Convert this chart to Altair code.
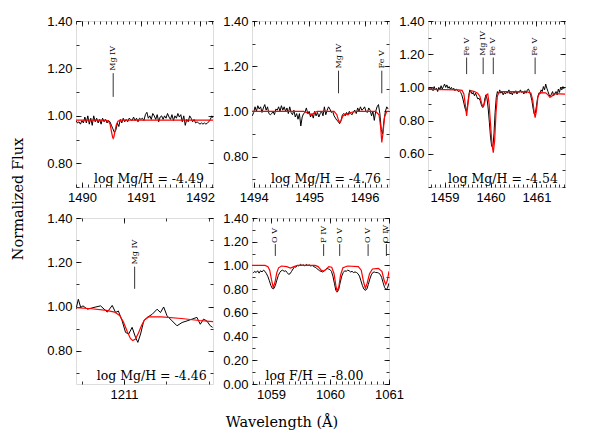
import altair as alt
import numpy as np
import pandas as pd

W, H = 137, 166
SERIF = "DejaVu Serif"
SANS = "Liberation Sans"

# ---------------- Panel 1 : Mg IV 1490.5 ----------------
p1_obs_start, p1_obs_step = 1489.900, 0.025
p1_obs_flux = [
    0.98, 0.97, 0.975, 0.965, 0.98, 0.97, 0.995, 0.97, 1.00, 0.965,
    0.99, 0.96, 1.00, 0.975, 0.99, 0.97, 0.985, 0.965, 0.99, 0.975,
    0.985, 0.97, 0.98, 0.975, 0.96, 0.945, 0.93, 0.94, 0.97, 0.955,
    0.985, 0.97, 0.99, 0.975, 0.985, 0.975, 0.99, 0.985, 0.98, 0.995,
    0.98, 0.99, 0.975, 0.99, 0.985, 0.99, 0.98, 1.005, 1.015, 0.99,
    1.00, 0.985, 1.01, 1.00, 0.985, 1.005, 0.975, 0.995, 1.00, 0.985,
    1.00, 0.99, 1.01, 0.995, 0.985, 1.005, 0.98, 1.00, 0.99, 1.01,
    0.995, 1.005, 0.975, 1.00, 0.96, 0.985, 0.975, 1.00, 0.99, 0.975,
    0.985, 0.97, 0.975, 0.97, 0.965, 0.97, 0.965, 0.97, 0.965, 0.97,
    0.975, 0.985, 1.00, 0.99]
p1_mod_wave = [1489.90, 1490.40, 1490.45, 1490.48, 1490.50, 1490.52, 1490.53,
               1490.54, 1490.56, 1490.58, 1490.61, 1490.66, 1492.22]
p1_mod_flux = [0.982, 0.982, 0.978, 0.962, 0.935, 0.91, 0.905,
               0.91, 0.935, 0.96, 0.977, 0.982, 0.982]
p1_id_wave = [1490.53]
p1_id_name = ["Mg IV"]
p1_note = "log Mg/H = -4.49"

# ---------------- Panel 2 : Mg IV 1495.5 ----------------
p2_obs_start, p2_obs_step = 1493.975, 0.025
p2_obs_flux = [
    0.98, 0.995, 1.02, 1.00, 1.025, 1.01, 1.02, 0.995, 1.015, 1.03,
    1.005, 1.02, 0.99, 0.985, 0.99, 1.00, 0.985, 1.01, 1.005, 1.02,
    1.00, 1.025, 1.005, 1.02, 1.00, 1.015, 0.99, 1.02, 0.995, 0.985,
    1.005, 0.975, 0.99, 0.965, 0.99, 0.935, 0.975, 0.99, 0.995, 1.015,
    0.99, 1.00, 0.975, 0.99, 0.97, 1.00, 0.98, 0.995, 0.975, 0.99,
    1.00, 0.98, 1.02, 0.985, 1.005, 1.02, 1.01, 0.995, 1.00, 0.98,
    0.97, 0.96, 0.955, 0.945, 0.96, 0.985, 0.99, 0.98, 0.995, 0.985,
    1.00, 0.99, 0.985, 1.00, 1.005, 0.99, 1.015, 1.00, 1.02, 1.005,
    1.01, 1.02, 1.00, 0.995, 1.015, 1.005, 0.98, 1.00, 0.96, 1.00,
    1.02, 1.03, 0.99, 0.92, 0.90, 0.96, 1.00, 1.02, 1.01]
p2_mod_wave = [1493.97, 1494.90, 1494.95, 1495.00, 1495.05, 1495.10, 1495.15,
               1495.45, 1495.50, 1495.53, 1495.55, 1495.57, 1495.60, 1495.65,
               1495.70, 1495.75, 1495.85, 1496.20, 1496.26, 1496.29, 1496.31,
               1496.33, 1496.36, 1496.40, 1496.44]
p2_mod_flux = [1.0, 1.0, 0.995, 0.99, 0.985, 0.995, 1.0,
               1.0, 0.985, 0.96, 0.95, 0.955, 0.975, 0.99,
               0.985, 0.995, 1.0, 1.0, 0.985, 0.93, 0.862,
               0.90, 0.975, 1.0, 1.0]
p2_id_wave = [1495.53, 1496.31]
p2_id_name = ["Mg IV", "Fe V"]
p2_note = "log Mg/H = -4.76"

# ---------------- Panel 3 : Mg IV 1459.8 ----------------
p3_obs_start, p3_obs_step = 1458.650, 0.025
p3_obs_flux = [
    0.99, 1.00, 0.985, 0.995, 0.98, 1.005, 0.985, 0.995, 0.975, 1.00,
    0.985, 1.01, 0.99, 1.005, 1.02, 1.00, 1.015, 0.995, 1.005, 0.99,
    1.00, 0.985, 0.995, 0.98, 0.99, 0.985, 0.975, 0.98, 0.97, 0.955,
    0.93, 0.90, 0.87, 0.855, 0.89, 0.95, 0.985, 0.975, 0.96, 0.97,
    0.95, 0.965, 0.945, 0.93, 0.935, 0.92, 0.895, 0.88, 0.885, 0.93,
    0.955, 0.93, 0.87, 0.79, 0.70, 0.645, 0.64, 0.72, 0.85, 0.94,
    0.975, 0.96, 0.985, 0.965, 0.975, 0.955, 0.97, 0.96, 0.975, 0.965,
    0.985, 0.96, 0.97, 0.955, 0.975, 0.965, 0.98, 0.96, 0.975, 0.97,
    0.985, 0.97, 0.975, 0.96, 0.98, 0.965, 0.985, 0.99, 0.975, 0.95,
    0.92, 0.875, 0.84, 0.845, 0.89, 0.94, 0.965, 0.96, 0.985, 0.975,
    1.005, 0.985, 1.02, 0.995, 0.975, 0.955, 0.945, 0.96, 0.975, 0.95,
    0.965, 0.975, 0.955, 0.99, 0.97, 1.00, 0.985, 1.005, 0.99]
p3_mod_wave = [1458.64, 1459.30, 1459.38, 1459.42, 1459.45, 1459.48, 1459.51,
               1459.54, 1459.58, 1459.65, 1459.72, 1459.77, 1459.81, 1459.84,
               1459.87, 1459.91, 1459.94, 1459.97, 1460.00, 1460.03, 1460.06,
               1460.09, 1460.12, 1460.15, 1460.20, 1460.80, 1460.88, 1460.92,
               1460.95, 1460.97, 1461.00, 1461.03, 1461.07, 1461.20, 1461.25,
               1461.29, 1461.33, 1461.38, 1461.62]
p3_mod_flux = [0.988, 0.985, 0.982, 0.96, 0.90, 0.828, 0.90,
               0.965, 0.98, 0.975, 0.965, 0.945, 0.90, 0.884,
               0.905, 0.955, 0.96, 0.90, 0.78, 0.66, 0.607,
               0.68, 0.85, 0.95, 0.975, 0.973, 0.965, 0.92,
               0.85, 0.818, 0.86, 0.94, 0.968, 0.967, 0.955,
               0.94, 0.945, 0.962, 0.96]
p3_id_wave = [1459.48, 1459.84, 1460.06, 1460.97]
p3_id_name = ["Fe V", "Mg IV", "Fe V", "Fe V"]
p3_note = "log Mg/H = -4.54"

# ---------------- Panel 4 : Mg IV 1211.0 ----------------
p4_obs_wave = [1210.773, 1210.784, 1210.795, 1210.806, 1210.827, 1210.858, 1210.889,
               1210.921, 1210.944, 1210.960, 1210.973, 1210.991, 1211.007, 1211.022,
               1211.038, 1211.054, 1211.065, 1211.078, 1211.093, 1211.109, 1211.133,
               1211.156, 1211.172, 1211.187, 1211.203, 1211.227, 1211.250, 1211.274,
               1211.297, 1211.321, 1211.344, 1211.360, 1211.375, 1211.391, 1211.407,
               1211.418]
p4_obs_flux = [0.988, 1.033, 0.996, 1.003, 0.988, 0.996, 1.003,
               0.975, 1.005, 0.973, 0.980, 0.935, 0.883, 0.876,
               0.906, 0.861, 0.838, 0.876, 0.935, 0.951, 0.965,
               0.988, 0.973, 0.998, 0.958, 0.935, 0.913, 0.928,
               0.935, 0.943, 0.951, 0.920, 0.943, 0.935, 0.913,
               0.906]
p4_mod_wave = [1210.773, 1210.847, 1210.917, 1210.955, 1210.979, 1210.997, 1211.016,
               1211.030, 1211.041, 1211.054, 1211.068, 1211.083, 1211.097, 1211.116,
               1211.177, 1211.271, 1211.355, 1211.420]
p4_mod_flux = [0.995, 0.99, 0.983, 0.975, 0.96, 0.93, 0.885,
               0.856, 0.846, 0.853, 0.88, 0.915, 0.94, 0.953,
               0.953, 0.946, 0.937, 0.932]
p4_id_wave = [1211.05]
p4_id_name = ["Mg IV"]
p4_note = "log Mg/H = -4.46"

# ---------------- Panel 5 : F IV 1059.9 ----------------
p5_obs_start, p5_obs_step = 1058.700, 0.025
p5_obs_flux = [
    0.935, 0.95, 0.94, 0.955, 0.935, 0.955, 0.945, 0.96, 0.95, 0.93,
    0.905, 0.87, 0.83, 0.805, 0.805, 0.83, 0.875, 0.915, 0.94, 0.955,
    0.96, 0.95, 0.955, 0.94, 0.925, 0.93, 0.95, 0.97, 0.99, 0.985,
    1.00, 0.995, 1.01, 1.00, 1.005, 0.995, 1.01, 1.00, 1.005, 0.995,
    1.00, 0.99, 0.985, 0.975, 0.965, 0.955, 0.95, 0.945, 0.95, 0.965,
    0.975, 0.97, 0.965, 0.95, 0.91, 0.85, 0.79, 0.775, 0.80, 0.86,
    0.91, 0.94, 0.955, 0.95, 0.96, 0.955, 0.945, 0.95, 0.94, 0.945,
    0.94, 0.93, 0.91, 0.87, 0.83, 0.80, 0.79, 0.80, 0.84, 0.885,
    0.92, 0.94, 0.945, 0.94, 0.94, 0.935, 0.925, 0.90, 0.855, 0.815,
    0.795, 0.81, 0.85]
p5_mod_wave = [1058.68, 1058.90, 1058.95, 1058.98, 1059.01, 1059.04, 1059.07,
               1059.10, 1059.13, 1059.18, 1059.27, 1059.33, 1059.39, 1059.45,
               1059.75, 1059.80, 1059.85, 1059.89, 1059.93, 1059.98, 1060.03,
               1060.07, 1060.10, 1060.12, 1060.15, 1060.18, 1060.22, 1060.30,
               1060.48, 1060.53, 1060.57, 1060.60, 1060.63, 1060.67, 1060.72,
               1060.82, 1060.88, 1060.92, 1060.945, 1060.97, 1061.00]
p5_mod_flux = [1.0, 1.0, 0.99, 0.96, 0.88, 0.812, 0.86,
               0.94, 0.98, 0.995, 0.99, 0.978, 0.99, 1.0,
               1.0, 0.99, 0.96, 0.952, 0.965, 0.99, 0.985,
               0.93, 0.83, 0.784, 0.82, 0.92, 0.98, 0.995,
               0.99, 0.96, 0.86, 0.807, 0.85, 0.93, 0.97,
               0.975, 0.95, 0.87, 0.84, 0.87, 0.95]
p5_id_wave = [1059.075, 1059.893, 1060.165, 1060.646, 1060.956]
p5_id_name = ["O V", "F IV", "O V", "O V", "O IV"]
p5_note = "log F/H = -8.00"


def grid(start, step, n):
    return [round(start + step * i, 4) for i in range(n)]


def ticks(a, b, step):
    return [round(v, 4) for v in np.arange(a, b + step / 2, step)]


def ax(orient, vals, major, labels=False, fmt=None):
    size = 5 if major else 3
    kw = dict(orient=orient, values=vals, tickSize=size, offset=-size, domain=False,
              grid=False, title=None, ticks=True, tickColor="black", tickWidth=0.8,
              labels=labels)
    if labels:
        kw.update(format=fmt, labelFont=SANS, labelFontSize=13, labelColor="black",
                  labelPadding=4, labelFlush=False, labelOverlap=False)
    return alt.Axis(**kw)


def panel(obs_w, obs_f, mod_w, mod_f, id_w, id_n, xdom, ydom, xmaj, xmin,
          ymaj, ymin, note, note_x, extra=None):
    xs = alt.Scale(domain=xdom, nice=False, zero=False)
    ys = alt.Scale(domain=ydom, nice=False, zero=False)
    obs = pd.DataFrame({"w": obs_w, "f": obs_f})
    mod = pd.DataFrame({"w": mod_w, "f": mod_f})
    ids = pd.DataFrame({"w": id_w, "n": id_n,
                        "y1": [1.08] * len(id_w), "y2": [1.18] * len(id_w),
                        "yt": [1.19] * len(id_w)})
    l1 = alt.Chart(obs).mark_line(color="black", strokeWidth=1, clip=True).encode(
        x=alt.X("w:Q", scale=xs, axis=ax("bottom", xmaj, True, True, "d")),
        y=alt.Y("f:Q", scale=ys, axis=ax("left", ymaj, True, True, ".2f")))
    l2 = alt.Chart(mod).mark_line(color="#ff0000", strokeWidth=1.2, clip=True).encode(
        x=alt.X("w:Q", scale=xs, axis=ax("bottom", xmin, False)),
        y=alt.Y("f:Q", scale=ys, axis=ax("left", ymin, False)))
    l3 = alt.Chart(ids).mark_rule(color="black", strokeWidth=0.8).encode(
        x=alt.X("w:Q", scale=xs, axis=ax("top", xmaj, True)),
        y=alt.Y("y1:Q", scale=ys, axis=ax("right", ymaj, True)),
        y2="y2:Q")
    l4 = alt.Chart(ids).mark_text(font=SERIF, fontSize=8, angle=270, align="left",
                                  baseline="middle", color="black").encode(
        x=alt.X("w:Q", scale=xs, axis=ax("top", xmin, False)),
        y=alt.Y("yt:Q", scale=ys, axis=ax("right", ymin, False)),
        text="n:N")
    l5 = alt.Chart(alt.Data(values=[{}])).mark_text(
        text=note, font=SERIF, fontSize=12.5, align="left", baseline="alphabetic",
        color="black").encode(x=alt.value(note_x), y=alt.value(H - 4))
    layers = [l1, l2, l3, l4, l5] + (extra or [])
    return alt.layer(*layers).resolve_axis(x="independent", y="independent").properties(
        width=W, height=H)


ytitle = alt.Chart(alt.Data(values=[{}])).mark_text(
    text="Normalized Flux", font=SERIF, fontSize=14.5, angle=270, align="center",
    baseline="middle", color="black").encode(x=alt.value(-57), y=alt.value(178))
xtitle = alt.Chart(alt.Data(values=[{}])).mark_text(
    text="Wavelength (Å)", font=SERIF, fontSize=14.5, align="center",
    baseline="middle", color="black").encode(x=alt.value(206), y=alt.value(402))

c1 = panel(grid(p1_obs_start, p1_obs_step, len(p1_obs_flux)), p1_obs_flux,
           p1_mod_wave, p1_mod_flux, p1_id_wave, p1_id_name,
           [1489.90, 1492.22], [0.70, 1.40], [1490, 1491, 1492], ticks(1489.9, 1492.2, 0.1),
           [0.8, 1.0, 1.2, 1.4], ticks(0.7, 1.4, 0.1), p1_note, 18, [ytitle, xtitle])
c2 = panel(grid(p2_obs_start, p2_obs_step, len(p2_obs_flux)), p2_obs_flux,
           p2_mod_wave, p2_mod_flux, p2_id_wave, p2_id_name,
           [1493.97, 1496.44], [0.665, 1.40], [1494, 1495, 1496], ticks(1494.0, 1496.4, 0.1),
           [0.8, 1.0, 1.2, 1.4], ticks(0.7, 1.4, 0.1), p2_note, 19)
c3 = panel(grid(p3_obs_start, p3_obs_step, len(p3_obs_flux)), p3_obs_flux,
           p3_mod_wave, p3_mod_flux, p3_id_wave, p3_id_name,
           [1458.64, 1461.62], [0.40, 1.40], [1459, 1460, 1461], ticks(1458.7, 1461.6, 0.1),
           [0.6, 0.8, 1.0, 1.2, 1.4], ticks(0.4, 1.4, 0.1), p3_note, 20)
c4 = panel(p4_obs_wave, p4_obs_flux,
           p4_mod_wave, p4_mod_flux, p4_id_wave, p4_id_name,
           [1210.773, 1211.42], [0.65, 1.40], [1211], ticks(1210.8, 1211.4, 0.2),
           [0.8, 1.0, 1.2, 1.4], ticks(0.7, 1.4, 0.1), p4_note, 20.7)
c5 = panel(grid(p5_obs_start, p5_obs_step, len(p5_obs_flux)), p5_obs_flux,
           p5_mod_wave, p5_mod_flux, p5_id_wave, p5_id_name,
           [1058.68, 1061.0], [0.0, 1.40], [1059, 1060, 1061], ticks(1058.7, 1061.0, 0.1),
           ticks(0.0, 1.4, 0.2), ticks(0.0, 1.4, 0.1), p5_note, 13.6)

chart = alt.concat(c1, c2, c3, c4, c5, columns=3,
                   spacing={"row": 31, "column": 39}, bounds="flush").properties(
    padding={"left": 2, "top": 6, "right": 5, "bottom": 5}).configure_view(
    stroke="black", strokeWidth=1).configure(background="white")

chart.save("out.html", embed_options={"renderer": "svg", "actions": False})
